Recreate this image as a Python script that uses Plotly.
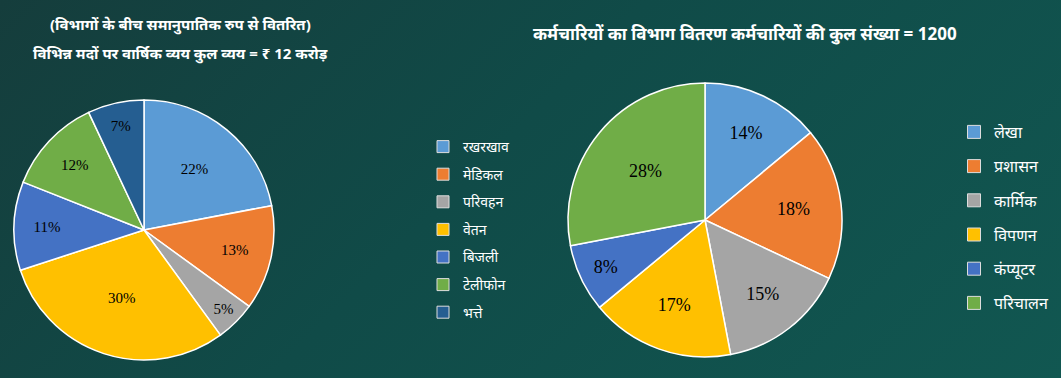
import plotly.graph_objects as go

# Left chart: annual expenditure by head (percent)
exp_labels = ["रखरखाव", "मेडिकल", "परिवहन", "वेतन", "बिजली", "टेलीफोन", "भत्ते"]
exp_values = [22, 13, 5, 30, 11, 12, 7]
exp_colors = ["#5B9BD5", "#ED7D31", "#A5A5A5", "#FFC000", "#4472C4", "#70AD47", "#255E91"]

# Right chart: employee distribution by department (percent)
emp_labels = ["लेखा", "प्रशासन", "कार्मिक", "विपणन", "कंप्यूटर", "परिचालन"]
emp_values = [14, 18, 15, 17, 8, 28]
emp_colors = ["#5B9BD5", "#ED7D31", "#A5A5A5", "#FFC000", "#4472C4", "#70AD47"]

W, H = 1061, 378
SERIF = "Liberation Serif, DejaVu Serif, serif"

fig = go.Figure()

fig.add_trace(go.Pie(
    labels=exp_labels, values=exp_values, sort=False, direction="clockwise", rotation=0,
    marker=dict(colors=exp_colors, line=dict(color="white", width=1.5)),
    texttemplate="%{value}%", textposition="inside", insidetextorientation="horizontal",
    textfont=dict(family=SERIF, size=15, color="black"),
    domain=dict(x=[14 / W, 274 / W], y=[(H - 360) / H, (H - 100) / H]),
    showlegend=False, hoverinfo="label+percent",
))

fig.add_trace(go.Pie(
    labels=emp_labels, values=emp_values, sort=False, direction="clockwise", rotation=0,
    marker=dict(colors=emp_colors, line=dict(color="white", width=1.5)),
    texttemplate="%{value}%", textposition="inside", insidetextorientation="horizontal",
    textfont=dict(family=SERIF, size=18, color="black"),
    domain=dict(x=[568 / W, 842 / W], y=[(H - 357) / H, (H - 83) / H]),
    showlegend=False, hoverinfo="label+percent",
))

# Legend entries (one per category) so the spacing can match the reference
for lab, col in zip(exp_labels, exp_colors):
    fig.add_trace(go.Scatter(
        x=[None], y=[None], mode="markers", name=lab, legend="legend", legendgroup="L" + lab,
        marker=dict(symbol="square", size=12, color=col, line=dict(color="#dddddd", width=1)),
    ))
for lab, col in zip(emp_labels, emp_colors):
    fig.add_trace(go.Scatter(
        x=[None], y=[None], mode="markers", name=lab, legend="legend2", legendgroup="R" + lab,
        marker=dict(symbol="square", size=13, color=col, line=dict(color="#dddddd", width=1)),
    ))

fig.update_layout(
    width=W, height=H,
    margin=dict(l=0, r=0, t=0, b=0),
    paper_bgcolor="rgba(0,0,0,0)", plot_bgcolor="rgba(0,0,0,0)",
    xaxis=dict(visible=False), yaxis=dict(visible=False),
    showlegend=True,
    legend=dict(x=423 / W, y=1 - 131 / H, xanchor="left", yanchor="top",
                bgcolor="rgba(0,0,0,0)", tracegroupgap=6.4,
                font=dict(family="Noto Sans, sans-serif", size=14, color="white")),
    legend2=dict(x=954 / W, y=1 - 115 / H, xanchor="left", yanchor="top",
                 bgcolor="rgba(0,0,0,0)", tracegroupgap=10.4,
                 font=dict(family="Noto Sans, sans-serif", size=16, color="white")),
    annotations=[
        dict(text="<b>(विभागों के बीच समानुपातिक रुप से वितरित)</b>", x=180 / W, y=1 - 24 / H,
             xref="paper", yref="paper", xanchor="center", yanchor="middle", showarrow=False,
             font=dict(family="Noto Sans, sans-serif", size=15, color="white")),
        dict(text="<b>विभिन्न मदों पर वार्षिक व्यय कुल व्यय = ₹ 12 करोड़</b>", x=180 / W, y=1 - 53 / H,
             xref="paper", yref="paper", xanchor="center", yanchor="middle", showarrow=False,
             font=dict(family="Noto Sans, sans-serif", size=15, color="white")),
        dict(text="<b>कर्मचारियों का विभाग वितरण कर्मचारियों की कुल संख्या = 1200</b>", x=745 / W, y=1 - 33 / H,
             xref="paper", yref="paper", xanchor="center", yanchor="middle", showarrow=False,
             font=dict(family="Noto Sans, sans-serif", size=17, color="white")),
    ],
)

fig.write_html(
    "out.html",
    config={"displayModeBar": False},
    post_script=(
        "document.body.style.margin='0';"
        "document.body.style.background='linear-gradient(135deg, #153d3c 0%, #104b48 45%, #115751 100%)';"
    ),
)
